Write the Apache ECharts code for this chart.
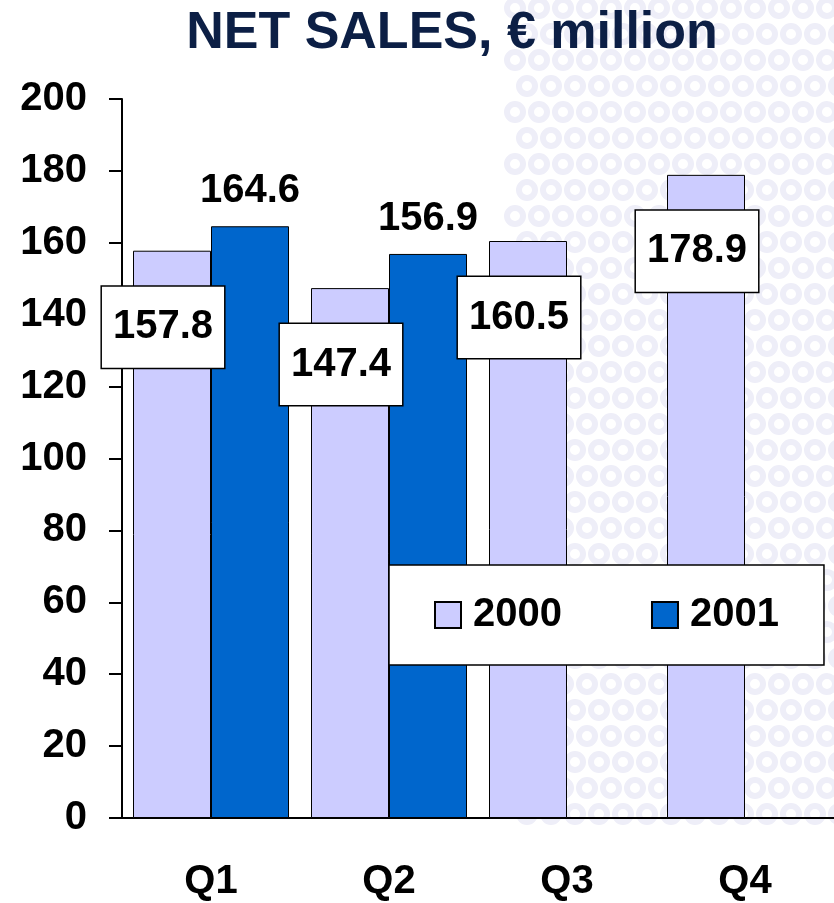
<!DOCTYPE html>
<html>
<head>
<meta charset="utf-8">
<script src="https://cdn.jsdelivr.net/npm/echarts@6/dist/echarts.min.js"></script>
<style>
  html, body { margin: 0; padding: 0; background: #fff; }
  #chart { width: 834px; height: 903px; }
</style>
</head>
<body>
<div id="chart"></div>
<script>
// 数据
var quarters = ['Q1', 'Q2', 'Q3', 'Q4'];
var sales2000 = [157.8, 147.4, 160.5, 178.9];
var sales2001 = [164.6, 156.9, null, null];
var seriesNames = ['2000', '2001'];

var FONT = '"Liberation Sans", Arial, sans-serif';

// 背景水印点阵（装饰）
function watermark() {
    var items = [];
    for (var r = 0; r < 32; r++) {
        for (var c = 0; c < 14; c++) {
            var x = 515 + c * 24 + (r % 2) * 12;
            var y = 8 + r * 26;
            items.push({
                type: 'circle',
                shape: { cx: x, cy: y, r: 8 },
                style: { fill: 'none', stroke: '#eeeef8', lineWidth: 6 },
                silent: true,
                z: -10
            });
        }
    }
    return items;
}

var chart = echarts.init(document.getElementById('chart'));
chart.setOption({
    backgroundColor: '#fff',
    animation: false,
    title: {
        text: 'NET SALES, € million',
        left: 447,
        textAlign: 'center',
        top: 3,
        textStyle: { fontFamily: FONT, fontSize: 52, fontWeight: 'bold', color: '#0c1f45' }
    },
    graphic: watermark(),
    legend: {
        data: seriesNames,
        left: 389,
        top: 565,
        orient: 'horizontal',
        padding: [30, 45],
        itemGap: 89,
        itemWidth: 26,
        itemHeight: 26,
        icon: 'rect',
        backgroundColor: '#fff',
        borderColor: '#000',
        borderWidth: 1.5,
        z: 10,
        textStyle: { fontFamily: FONT, fontSize: 40, fontWeight: 'bold', color: '#000', padding: [0, 0, 0, 7] }
    },
    grid: { left: 122, top: 99, bottom: 85, right: -5 },
    xAxis: {
        type: 'category',
        data: quarters,
        axisLine: { lineStyle: { color: '#000', width: 2 } },
        axisTick: { length: 14, lineStyle: { color: '#000', width: 2 } },
        axisLabel: { margin: 44, fontFamily: FONT, fontSize: 40, fontWeight: 'bold', color: '#000' }
    },
    yAxis: {
        type: 'value',
        min: 0,
        max: 200,
        interval: 20,
        splitLine: { show: false },
        axisLine: { show: true, lineStyle: { color: '#000', width: 2 } },
        axisTick: { show: true, length: 13, lineStyle: { color: '#000', width: 2 } },
        axisLabel: { margin: 35, fontFamily: FONT, fontSize: 40, fontWeight: 'bold', color: '#000' }
    },
    series: [
        {
            name: seriesNames[0],
            type: 'bar',
            data: sales2000,
            barWidth: 78,
            barGap: '0%',
            itemStyle: { color: '#ccccff', borderColor: '#000', borderWidth: 1 },
            label: {
                show: true,
                position: 'insideTop',
                distance: 0,
                offset: [-9, 36],
                fontFamily: FONT,
                fontSize: 40,
                fontWeight: 'bold',
                color: '#000',
                lineHeight: 41,
                backgroundColor: '#fff',
                borderColor: '#000',
                borderWidth: 1.5,
                padding: [20, 11]
            }
        },
        {
            name: seriesNames[1],
            type: 'bar',
            data: sales2001,
            barWidth: 78,
            itemStyle: { color: '#0066cc', borderColor: '#000', borderWidth: 1 },
            label: {
                show: true,
                position: 'top',
                distance: 15,
                fontFamily: FONT,
                fontSize: 40,
                fontWeight: 'bold',
                color: '#000'
            }
        }
    ]
});
</script>
</body>
</html>
